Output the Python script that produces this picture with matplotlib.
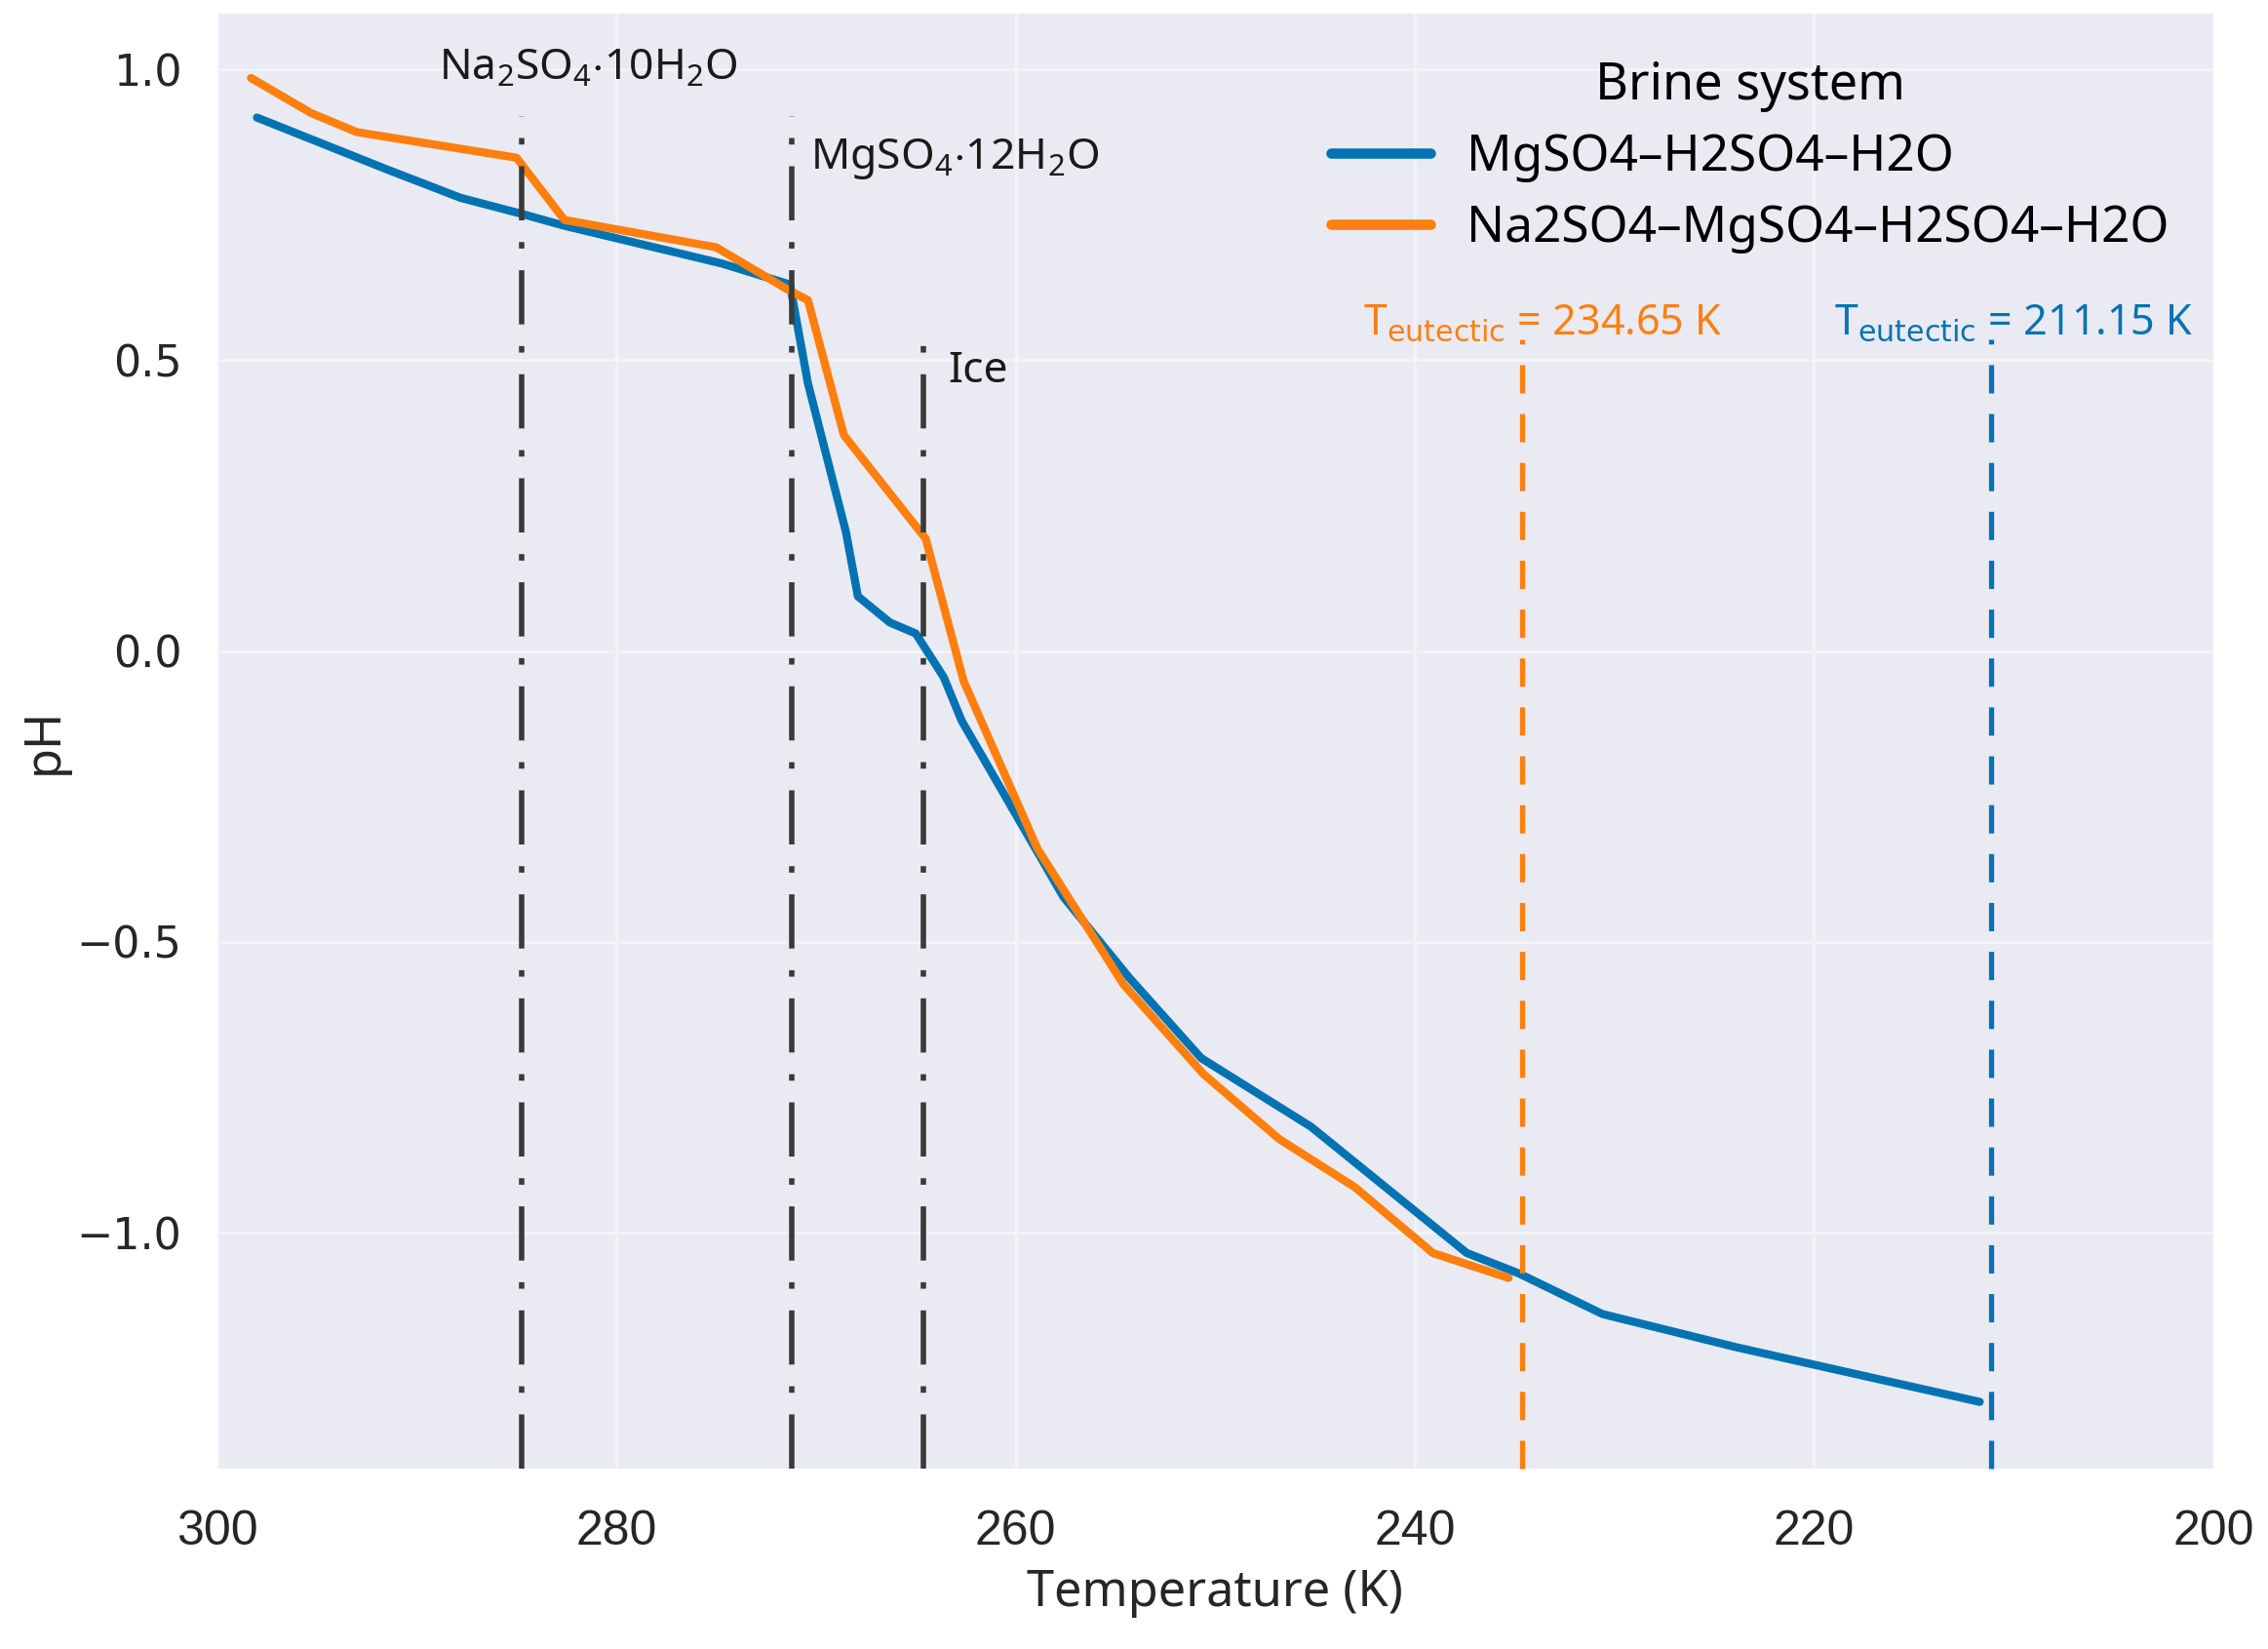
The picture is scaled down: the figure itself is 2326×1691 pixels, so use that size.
import matplotlib
matplotlib.use("Agg")
import matplotlib.pyplot as plt

# pH along the cooling path
mg_T = [298.0, 291.5, 287.8, 284.8, 282.6, 274.7, 271.3, 270.4, 268.5, 267.9, 266.3,
        265.0, 263.6, 262.7, 257.6, 254.3, 250.7, 245.2, 237.4, 234.8, 230.6, 223.9, 211.7]
mg_pH = [0.917, 0.828, 0.779, 0.752, 0.731, 0.666, 0.630, 0.460, 0.205, 0.094, 0.049,
         0.030, -0.045, -0.120, -0.423, -0.562, -0.700, -0.818, -1.035, -1.070, -1.140, -1.197, -1.291]

na_T = [298.3, 295.3, 293.0, 285.0, 282.6, 275.0, 271.4, 270.4, 268.6, 264.5, 262.6,
        258.9, 254.6, 250.6, 246.8, 243.0, 239.1, 235.3]
na_pH = [0.985, 0.925, 0.892, 0.848, 0.741, 0.694, 0.621, 0.603, 0.371, 0.193, -0.052,
         -0.340, -0.573, -0.727, -0.839, -0.922, -1.035, -1.078]

series_labels = ["MgSO4–H2SO4–H2O", "Na2SO4–MgSO4–H2SO4–H2O"]

# phase boundaries (K)
phase_T = [284.75, 271.2, 264.6]
phase_top = [0.92, 0.92, 0.56]
phase_labels = [r"Na$_2$SO$_4$$\cdot$10H$_2$O", r"MgSO$_4$$\cdot$12H$_2$O", "Ice"]

eut_T = [234.65, 211.15]
eut_labels = [r"T$_{\mathrm{eutectic}}$ = 234.65 K", r"T$_{\mathrm{eutectic}}$ = 211.15 K"]

blue = "#0173B2"
orange = "#FF7F0E"

plt.rcParams["mathtext.default"] = "regular"
plt.rcParams["font.family"] = ["Noto Sans", "DejaVu Sans"]

fig = plt.figure(figsize=(11.63, 8.455), dpi=200)
ax = fig.add_axes([0.0957, 0.1094, 0.8802, 0.8823])
ax.set_facecolor("#EAEAF2")
for s in ax.spines.values():
    s.set_visible(False)
ax.grid(True, color="#F4F4F8", lw=1.0)
ax.set_axisbelow(True)

ymin, ymax = -1.4057, 1.0956
ax.set_xlim(300, 200)
ax.set_ylim(ymin, ymax)
ax.set_xticks([300, 280, 260, 240, 220, 200])
ax.set_yticks([-1.0, -0.5, 0.0, 0.5, 1.0])

l1, = ax.plot(mg_T, mg_pH, color=blue, lw=3.0, solid_capstyle="round", solid_joinstyle="round")
l2, = ax.plot(na_T, na_pH, color=orange, lw=3.0, solid_capstyle="round", solid_joinstyle="round")

# phase boundary lines
for T, top in zip(phase_T, phase_top):
    ax.plot([T, T], [ymin, top], color="#3a3a3a", lw=2.0,
            linestyle=(0, (10.0, 4.0, 1.2, 4.0)), zorder=4, clip_on=False)

ax.text(288.9, 1.0, phase_labels[0], fontsize=16, ha="left", va="center", color="#1a1a1a")
ax.text(270.3, 0.846, phase_labels[1], fontsize=16, ha="left", va="center", color="#1a1a1a")
ax.text(263.4, 0.48, phase_labels[2], fontsize=16, ha="left", va="center", color="#1a1a1a")

# eutectic lines
for T, c in zip(eut_T, [orange, blue]):
    ax.plot([T, T], [ymin, 0.536], color=c, lw=1.9,
            linestyle=(0, (5.5, 4.0)), zorder=4, clip_on=False)

ax.text(242.6, 0.545, eut_labels[0], fontsize=15.5, color=orange, ha="left", va="baseline")
ax.text(219.0, 0.545, eut_labels[1], fontsize=15.5, color=blue, ha="left", va="baseline")

for lab in ax.get_yticklabels():
    lab.set_fontfamily("DejaVu Sans")
for lab in ax.get_xticklabels():
    lab.set_fontfamily("Liberation Sans")
ax.tick_params(axis="y", labelsize=16, length=0, pad=13, colors="#262626")
ax.tick_params(axis="x", labelsize=18, length=0, pad=15, colors="#262626")

ax.set_xlabel("Temperature (K)", fontsize=18.2, labelpad=5, color="#262626")
ax.set_ylabel("pH", fontsize=18.2, labelpad=3, color="#262626")

leg = ax.legend([l1, l2], series_labels, title="Brine system", loc="upper right",
                bbox_to_anchor=(0.978, 0.968), frameon=False, fontsize=18.5,
                title_fontsize=18.8, borderpad=0, borderaxespad=0, handlelength=2.0,
                handletextpad=0.72, labelspacing=0.42)
for h in leg.legend_handles:
    h.set_linewidth(3.8)

fig.savefig("out.png", dpi=200)
